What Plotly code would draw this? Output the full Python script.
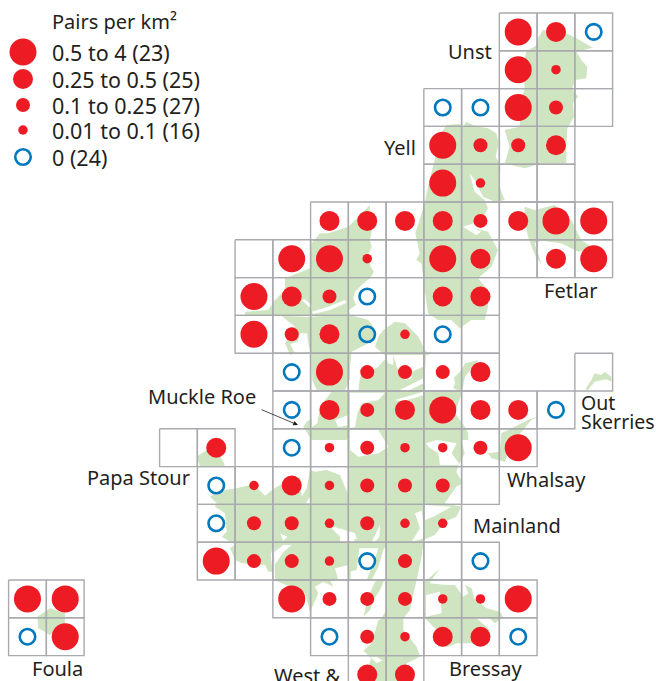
import plotly.graph_objects as go

# ---- data: each row of the survey grid, "." = no square, E = surveyed square without marker
ROW_00 = "L M Z".split(); COL_00 = 9
ROW_01 = "L T E".split(); COL_01 = 9
ROW_02 = "Z Z L S E".split(); COL_02 = 7
ROW_03 = "L S S M".split(); COL_03 = 7
ROW_04 = "L T E E".split(); COL_04 = 7
ROW_05 = "M M M M S M L L".split(); COL_05 = 4
ROW_06 = "E L L T E L M E M L".split(); COL_06 = 2
ROW_07 = "L M S Z E M M".split(); COL_07 = 2
ROW_08 = "L S M Z T Z E".split(); COL_08 = 2
ROW_09 = "Z L S S S M . . E".split(); COL_09 = 3
ROW_10 = "Z M S M L M M Z".split(); COL_10 = 3
ROW_11 = "E M . Z T S T T S L".split(); COL_11 = 0
ROW_12 = "Z T M T S S S E".split(); COL_12 = 1
ROW_13 = "Z S S T S T T".split(); COL_13 = 1
ROW_14 = "L S S T Z S E Z".split(); COL_14 = 1
ROW_15 = "L S S S T T L".split(); COL_15 = 3
ROW_16 = "Z S T M M Z".split(); COL_16 = 4
ROW_17 = "M M".split(); COL_17 = 5
FOULA_15 = "L L".split()
FOULA_16 = "Z L".split()
FOULA_COL = -4

GRID = [(ROW_00, COL_00), (ROW_01, COL_01), (ROW_02, COL_02), (ROW_03, COL_03), (ROW_04, COL_04),
        (ROW_05, COL_05), (ROW_06, COL_06), (ROW_07, COL_07), (ROW_08, COL_08), (ROW_09, COL_09),
        (ROW_10, COL_10), (ROW_11, COL_11), (ROW_12, COL_12), (ROW_13, COL_13), (ROW_14, COL_14),
        (ROW_15, COL_15), (ROW_16, COL_16), (ROW_17, COL_17)]

LEGEND_TITLE = "Pairs per km²"
LEGEND_KEYS = ["L", "M", "S", "T", "Z"]
LEGEND_TEXT = ["0.5 to 4 (23)", "0.25 to 0.5 (25)", "0.1 to 0.25 (27)", "0.01 to 0.1 (16)", "0 (24)"]

# ---- land outlines, map units measured from reference frames
Z2 = (328, 0); Z4 = (328, 340); Z5 = (235, 200); Z6 = (190, 430); Z7 = (340, 500); Z3 = (0, 340)
FA = (340, 350); FB = (270, 210); FC = (270, 340); FD = (200, 465); FE = (340, 470)
LAND = [
 (Z2, [(630,115),(645,90),(715,100),(745,115),(795,143),(770,150),(745,155),(760,180),(778,200),(775,235),(742,240),(732,265),(750,290),(735,310),(738,350),(718,385),(715,440),(715,490),(640,490),(590,505),(530,490),(545,440),(530,390),(575,380),(580,300),(590,265),(585,195),(595,155),(625,135)]),
 (Z2, [(355,375),(395,372),(405,382),(415,365),(440,378),(480,385),(505,400),(512,430),(503,470),(517,495),(515,560),(530,600),(500,605),(465,590),(440,540),(425,520),(440,575),(470,600),(480,625),(460,660),(410,680),(440,685),(480,695),(495,725),(510,750),(490,800),(450,835),(480,870),(480,920),(470,960),(430,960),(395,985),(370,960),(330,960),(300,940),(290,870),(285,820),(280,790),(265,780),(275,760),(262,700),(290,610),(300,560),(320,480),(340,400)]),
 (Z2, [(590,620),(620,630),(680,615),(730,660),(760,720),(795,745),(750,755),(700,730),(640,722),(620,730),(640,790),(625,775),(600,710),(590,660)]),
 (Z5, [(405,15),(403,40),(415,70),(405,120),(410,140),(400,165),(407,200),(417,215),(405,235),(380,255),(360,275),(355,295),(363,315),(342,330),(345,345),(115,345),(30,345),(30,335),(100,330),(120,300),(150,270),(150,235),(175,225),(225,205),(230,130),(255,100),(280,100),(340,80),(375,45)]),
 (Z5, [(140,348),(215,350),(345,345),(400,360),(415,380),(420,420),(400,430),(380,440),(350,455),(345,500),(345,540),(330,570),(300,575),(245,570),(232,540),(230,460),(222,440),(215,400),(195,400),(188,425),(165,432),(180,460),(165,465),(150,430),(180,380)]),
 (Z5, [(370,575),(375,530),(430,500),(455,470),(420,440),(430,410),(445,390),(480,365),(510,370),(550,410),(570,450),(610,495),(640,540),(660,530),(680,510),(690,490),(730,480),(690,530),(680,580),(660,640),(690,680),(700,700),(700,720),(230,720),(205,680),(215,665),(240,650),(255,620),(290,575)]),
 (Z4, [(290,267),(400,267),(400,300),(410,340),(395,370),(385,395),(405,430),(385,440),(350,490),(400,500),(385,530),(350,545),(320,585),(285,600),(285,625),(60,625),(60,267)]),
 (Z4, [(480,340),(515,335),(520,280),(560,260),(600,240),(640,225),(610,240),(560,300),(530,365),(490,355)]),
 (Z4, [(772,148),(790,120),(800,100),(820,105),(830,95),(850,110),(850,125),(835,118),(800,125),(780,150)]),
 (Z3, [(112,830),(150,805),(195,820),(195,850),(150,885),(115,865)]),
 (Z6, [(20,80),(50,60),(60,30),(100,95),(105,110),(55,110),(30,110)]),
 (FD, [(45,125),(50,115),(30,95),(45,85),(75,75),(110,70),(150,60),(175,72),(195,92),(220,72),(240,60),(270,50),(300,35),(305,95),(320,70),(330,15),(345,20),(380,15),(420,30),(445,90),(452,90),(452,345),(390,345),(400,365),(370,350),(345,365),(355,385),(330,440),(315,385),(235,350),(225,340),(222,250),(218,250),(212,270),(218,320),(205,320),(195,300),(125,295),(105,285),(90,250),(107,238),(100,235),(65,215),(80,200),(75,145)]),
 (Z6, [(590,340),(700,340),(695,380),(680,450),(670,500),(660,540),(640,565),(640,600),(680,650),(690,680),(650,700),(640,753),(590,753),(590,700),(560,680),(565,660),(590,640),(570,610),(570,570),(590,540),(590,450)]),
 (Z6, [(535,500),(555,455),(585,445),(570,480),(550,510),(540,540),(520,560)]),
 (Z6, [(520,662),(545,640),(565,570),(590,565),(590,680),(545,680),(520,753),(600,753),(600,680),(560,700)]),
 (FE, [(27,218),(60,218),(55,260),(50,300),(27,305)]),
 (FE, [(120,220),(137,218),(115,290),(95,330),(80,330),(100,280)]),
 (Z7, [(255,245),(300,205),(268,250),(320,255),(345,255),(370,290),(385,280),(375,255),(395,265),(402,295),(440,325),(480,335),(490,352),(465,370),(448,355),(410,355),(450,390),(420,440),(395,430),(350,430),(325,440),(295,440),(300,400),(285,385),(255,355)]),
]
WATER = [
 (Z2, [(405,680),(445,705),(460,695),(420,675)]),
 (FB, [(95,270),(125,298),(125,285),(105,268)]),
 (FB, [(125,305),(175,290),(225,270),(230,278),(180,300),(130,312)]),
 (FC, [(125,158),(172,158),(150,200),(142,250),(125,262)]),
 (FC, [(195,240),(235,225),(235,255),(205,262)]),
 (FC, [(130,318),(180,312),(218,310),(235,295),(235,380),(170,380),(140,365),(125,340)]),
 (FA, [(27,90),(50,85),(55,125),(27,125)]),
 (FA, [(60,15),(130,15),(135,30),(100,40),(70,40)]),
 (FA, [(135,15),(160,15),(160,45),(145,40)]),
 (FA, [(160,15),(250,15),(250,50),(215,65),(215,85),(195,90),(170,50)]),
 (FA, [(175,122),(250,85),(250,100),(200,125)]),
 (FA, [(258,15),(330,15),(345,100),(340,115),(365,125),(255,125),(255,60)]),
 (FA, [(30,128),(135,128),(115,150),(65,160),(52,190),(45,232),(30,235)]),
 (FA, [(165,150),(250,125),(252,135),(185,155)]),
 (FA, [(30,240),(115,240),(145,290),(115,310),(55,320),(30,300)]),
 (FA, [(258,280),(290,270),(350,280),(335,310),(360,345),(300,345),(295,310),(265,290)]),
 (FD, [(222,262),(250,240),(275,240),(250,262),(225,298)]),
 (FD, [(240,205),(262,215),(250,228)]),
 (FD, [(395,190),(405,185),(425,195),(447,225),(420,215)]),
 (FD, [(450,200),(465,205),(470,222),(455,220)]),
 (FD, [(330,95),(335,115),(318,115)]),
 (FD, [(405,310),(447,300),(447,345),(415,345)]),
 (FE, [(255,105),(335,110),(280,140),(255,150)]),
 (FE, [(225,130),(245,122),(252,180),(252,205),(215,215),(240,175)]),
 (FE, [(0,175),(40,190),(45,215),(0,215)]),
 (FE, [(95,215),(120,165),(118,200),(105,215)]),
 (Z7, [(258,285),(300,275),(305,340),(258,350)]),
]

LABELS = [("Unst", 493, 51, "right", 20), ("Yell", 417, 147, "right", 20), ("Fetlar", 543, 290, "left", 20),
          ("Muckle Roe", 257, 396, "right", 20), ("Papa Stour", 191, 477, "right", 20), ("Whalsay", 506, 479, "left", 20),
          ("Mainland", 472, 525, "left", 20), ("Foula", 31, 668, "left", 20), ("West &", 341, 675, "right", 20),
          ("Bressay", 448, 668, "left", 20), ("Out", 580, 402, "left", 19.5), ("Skerries", 580, 421, "left", 19.5)]

# ---- styling
FONT = "Noto Sans"
INK = "#231f20"
RED = "#ed1c24"
BLUE = "#0078be"
GREEN = "#cfe5c1"
GREY = "#a9aaae"
SIZES = {"L": 27, "M": 20, "S": 14, "T": 9.5}
X0, DX, Y0, DY = 159.6, 37.75, 13.0, 37.8


def cx(c): return X0 + DX * c
def cy(r): return Y0 + DY * r
def poly(frame, pts):
    return [frame[0] + p[0] / 3 for p in pts] + [frame[0] + pts[0][0] / 3], [frame[1] + p[1] / 3 for p in pts] + [frame[1] + pts[0][1] / 3]


fig = go.Figure()
for layer, colour in ((LAND, GREEN), (WATER, "white")):
    for frame, pts in layer:
        xs, ys = poly(frame, pts)
        fig.add_trace(go.Scatter(x=xs, y=ys, mode="lines", fill="toself", fillcolor=colour,
                                 line=dict(width=0), hoverinfo="skip", showlegend=False))

cells = []
for r, (row, c0) in enumerate(GRID):
    for i, k in enumerate(row):
        if k != ".":
            cells.append((c0 + i, r, k))
for i, k in enumerate(FOULA_15):
    cells.append((FOULA_COL + i, 15, k))
for i, k in enumerate(FOULA_16):
    cells.append((FOULA_COL + i, 16, k))

gx, gy = [], []
for c, r, k in cells:
    gx += [cx(c), cx(c + 1), cx(c + 1), cx(c), cx(c), None]
    gy += [cy(r), cy(r), cy(r + 1), cy(r + 1), cy(r), None]
fig.add_trace(go.Scatter(x=gx, y=gy, mode="lines", line=dict(color=GREY, width=1.4),
                         hoverinfo="skip", showlegend=False))

LEG_X, LEG_Y = 23, [52, 79, 105, 130, 157]
for key, ly in zip(LEGEND_KEYS, LEG_Y):
    xs = [cx(c + .5) for c, r, k in cells if k == key] + [LEG_X]
    ys = [cy(r + .5) for c, r, k in cells if k == key] + [ly]
    if key == "Z":
        m = dict(symbol="circle-open", size=15.5, color=BLUE, line=dict(color=BLUE, width=2.6))
    else:
        m = dict(symbol="circle", size=SIZES[key], color=RED, line=dict(width=0))
    fig.add_trace(go.Scatter(x=xs, y=ys, mode="markers", marker=m, hoverinfo="skip", showlegend=False))

LABEL_SIZE, LEGEND_SIZE = 20, 21.5
anns = [dict(x=51, y=21, text=LEGEND_TITLE, xanchor="left", font=dict(family=FONT, size=LABEL_SIZE, color=INK))]
for t, ly in zip(LEGEND_TEXT, LEG_Y):
    anns.append(dict(x=51, y=ly, text=t, xanchor="left", font=dict(family=FONT, size=LEGEND_SIZE, color=INK)))
for t, x, y, a, s in LABELS:
    anns.append(dict(x=x, y=y, text=t, xanchor=a, font=dict(family=FONT, size=s, color=INK)))
for a in anns:
    a.update(yanchor="middle", showarrow=False, borderpad=0)
anns.append(dict(x=298, y=425, ax=260, ay=409, axref="x", ayref="y", text="", showarrow=True,
                 arrowhead=2, arrowsize=1.2, arrowwidth=0.8, arrowcolor=INK))

fig.update_layout(
    width=656, height=681, margin=dict(l=0, r=0, t=0, b=0),
    paper_bgcolor="white", plot_bgcolor="white", annotations=anns, showlegend=False,
    xaxis=dict(range=[0, 656], visible=False, fixedrange=True),
    yaxis=dict(range=[681, 0], visible=False, fixedrange=True),
)
fig.write_html("out.html", config={"displayModeBar": False},
               post_script="document.body.style.margin='0';document.body.style.overflow='hidden';")
